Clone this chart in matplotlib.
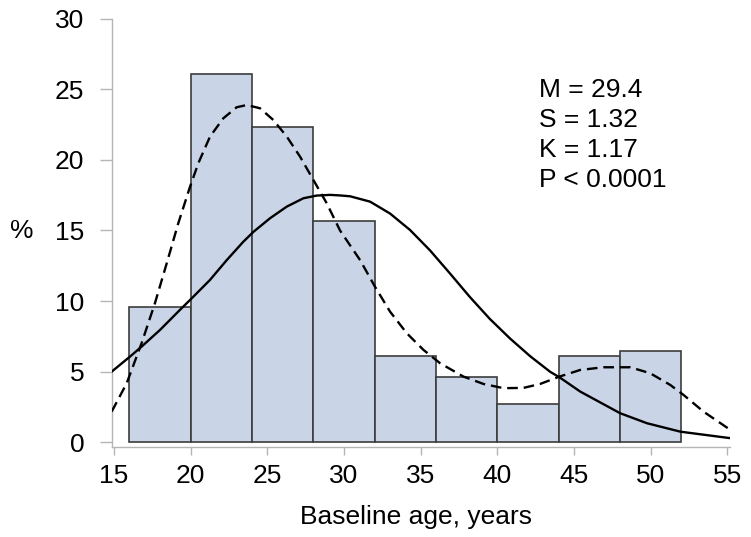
import matplotlib
matplotlib.use("Agg")
from matplotlib import pyplot as plt

plt.rcParams["font.family"] = ["Liberation Sans", "DejaVu Sans"]

# Histogram: bin edges (years) and percent per bin
bin_left = [16, 20, 24, 28, 32, 36, 40, 44, 48]
bin_width = 4
percent = [9.6, 26.1, 22.3, 15.7, 6.1, 4.6, 2.7, 6.1, 6.5]

# Fitted normal curve
normal_x = [14.85, 16.04, 16.8, 18.0, 19.3, 20.07, 21.26, 22.35, 23.43, 24.09,
            25.18, 26.27, 27.35, 28.22, 29.09, 29.74, 30.4, 31.7, 33.0, 34.3,
            35.6, 36.9, 38.2, 39.5, 40.83, 42.14, 43.44, 44.05, 45.4, 48.0,
            49.75, 51.94, 55.2]
normal_y = [5.01, 6.07, 6.78, 7.96, 9.38, 10.2, 11.5, 12.9, 14.2, 14.9,
            15.87, 16.69, 17.28, 17.47, 17.52, 17.48, 17.42, 17.04, 16.2, 15.04,
            13.6, 11.97, 10.3, 8.75, 7.35, 6.1, 5.0, 4.61, 3.6, 2.07,
            1.36, 0.76, 0.3]

# Kernel density curve (dashed)
kernel_x = [14.85, 15.83, 16.8, 17.67, 18.44, 19.19, 19.96, 20.5, 21.26, 22.13,
            23.0, 23.66, 24.52, 25.39, 26.27, 27.13, 28.0, 28.87, 29.74, 31.05,
            32.03, 33.0, 34.09, 35.18, 36.27, 37.79, 39.09, 40.4, 41.7, 42.79,
            44.05, 45.4, 46.92, 48.66, 49.96, 51.27, 52.14, 53.44, 55.2]
kernel_y = [2.18, 4.19, 7.02, 9.85, 12.68, 15.5, 18.1, 19.76, 21.64, 22.94,
            23.72, 23.88, 23.65, 22.82, 21.64, 20.23, 18.58, 16.93, 15.0, 12.9,
            11.0, 9.26, 7.73, 6.55, 5.6, 4.66, 4.14, 3.84, 3.86, 4.14,
            4.66, 5.13, 5.32, 5.32, 4.9, 4.07, 3.36, 2.18, 0.88]

stats_text = "M = 29.4\nS = 1.32\nK = 1.17\nP < 0.0001"

fig = plt.figure(figsize=(7.51, 5.37), dpi=100)
ax = fig.add_axes([0.1487, 0.1682, 0.824, 0.7973])

ax.bar(bin_left, percent, width=bin_width, align="edge",
       color="#c9d4e6", edgecolor="#3c3c3c", linewidth=1.2, zorder=1)

ax.plot(normal_x, normal_y, color="black", lw=1.7, zorder=3)
ax.plot(kernel_x, kernel_y, color="black", lw=1.7, linestyle=(0, (4.5, 2.5)), zorder=3)

ax.set_xlim(14.85, 55.2)
ax.set_ylim(-0.3, 30)
ax.set_xticks(range(15, 56, 5))
ax.set_yticks(range(0, 31, 5))

for side in ["top", "right"]:
    ax.spines[side].set_visible(False)
for side in ["left", "bottom"]:
    ax.spines[side].set_color("#b5b5b5")
    ax.spines[side].set_linewidth(1.0)
ax.tick_params(axis="both", colors="#b5b5b5", labelcolor="black",
               labelsize=19, width=1.0)
ax.tick_params(axis="y", length=8.6, pad=11)
ax.tick_params(axis="x", length=6, pad=6.5)

ax.set_xlabel("Baseline age, years", fontsize=19)
ax.xaxis.set_label_coords(0.492, -0.136)
ax.set_ylabel("%", fontsize=19, rotation=0, va="center", ha="center")
ax.yaxis.set_label_coords(-0.145, 0.504)

ax.text(42.7, 25.8, stats_text, fontsize=19, va="top", ha="left",
        linespacing=1.32)

fig.savefig("out.png", dpi=100)
